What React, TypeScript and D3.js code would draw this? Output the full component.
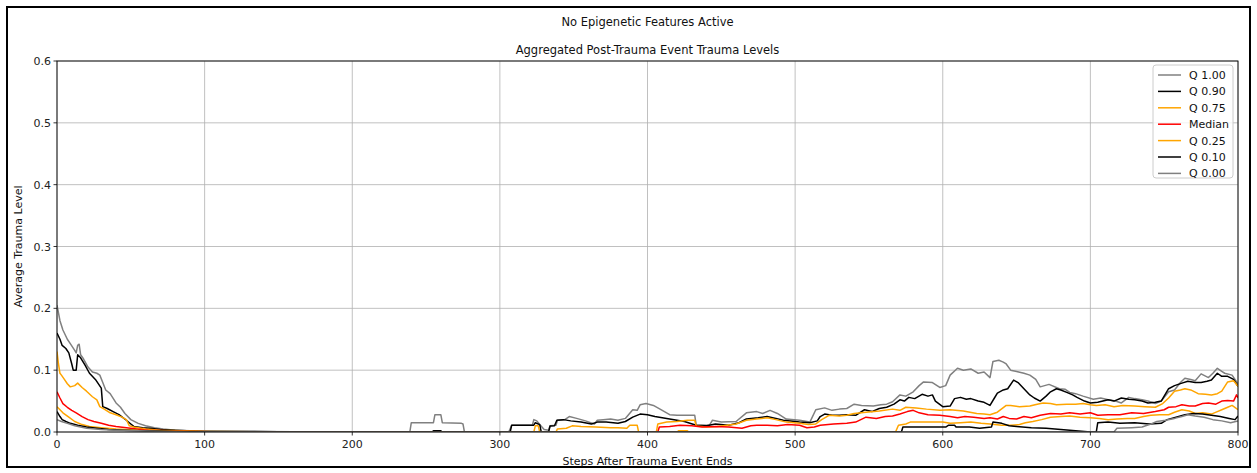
import React from "react";
import * as d3 from "d3";

type Pt = [number, number];

const xTicks = [0, 100, 200, 300, 400, 500, 600, 700, 800];
const yTicks = [0.0, 0.1, 0.2, 0.3, 0.4, 0.5, 0.6];

const q100: Pt[] = [[0,0.205],[2,0.18],[4,0.165],[7,0.15],[9,0.143],[12,0.132],[13,0.128],[14,0.14],[15,0.142],[16,0.125],[18,0.118],[21,0.105],[24,0.097],[27,0.095],[29,0.092],[31,0.08],[33,0.068],[36,0.062],[40,0.047],[43,0.04],[46,0.03],[50,0.02],[55,0.014],[60,0.01],[66,0.007],[72,0.005],[80,0.003],[90,0.002],[100,0.0015],[130,0.001],[160,0.0005],[200,0],[239,0],[240,0.015],[255,0.015],[256,0.028],[260,0.028],[261,0.015],[274,0.014],[275,0.013],[276,0],[306,0],[308,0.011],[322,0.011],[323,0.02],[325,0.018],[327,0.012],[330,0.004],[333,0.003],[334,0.01],[338,0.011],[339,0.019],[344,0.02],[347,0.025],[352,0.022],[358,0.018],[364,0.013],[366,0.019],[370,0.02],[375,0.021],[380,0.019],[385,0.022],[390,0.036],[393,0.035],[395,0.044],[399,0.046],[404,0.043],[410,0.035],[415,0.028],[420,0.027],[432,0.027],[433,0.011],[442,0.011],[444,0.019],[450,0.016],[460,0.017],[467,0.031],[474,0.033],[478,0.03],[483,0.035],[488,0.03],[494,0.021],[503,0.019],[510,0.016],[514,0.036],[520,0.039],[525,0.035],[530,0.037],[535,0.038],[540,0.045],[545,0.043],[553,0.042],[558,0.044],[562,0.045],[566,0.049],[571,0.06],[575,0.058],[580,0.065],[584,0.075],[587,0.081],[593,0.08],[598,0.072],[602,0.075],[605,0.092],[610,0.103],[614,0.1],[619,0.102],[624,0.095],[628,0.097],[632,0.088],[634,0.114],[638,0.116],[641,0.113],[643,0.11],[646,0.1],[650,0.098],[655,0.095],[659,0.092],[663,0.085],[666,0.073],[672,0.077],[679,0.07],[683,0.069],[686,0.064],[690,0.062],[695,0.058],[702,0.053],[707,0.055],[712,0.052],[717,0.05],[721,0.047],[726,0.056],[730,0.054],[735,0.052],[739,0.05],[744,0.046],[748,0.05],[753,0.065],[757,0.068],[761,0.08],[764,0.087],[768,0.085],[771,0.083],[775,0.094],[780,0.088],[783,0.095],[786,0.103],[789,0.098],[791,0.095],[796,0.092],[800,0.078]];

const q90: Pt[] = [[0,0.16],[2,0.15],[3.5,0.14],[6,0.135],[8,0.128],[10,0.11],[11,0.1],[13,0.1],[14,0.125],[16,0.12],[19,0.108],[22,0.095],[26,0.085],[30,0.071],[31,0.041],[34,0.038],[38,0.033],[42,0.028],[47,0.019],[50,0.013],[52,0.009],[58,0.007],[63,0.006],[70,0.004],[80,0.003],[100,0.001],[150,0.0005],[200,0],[254,0],[255,0.002],[260,0.002],[261,0],[307,0],[308,0.011],[323,0.011],[324,0.015],[327,0.012],[328,0],[333,0],[334,0.0097],[337,0.01],[338.6,0.019],[343,0.02],[348,0.018],[355,0.016],[362,0.013],[366,0.016],[372,0.016],[380,0.014],[385,0.017],[390,0.024],[395,0.029],[400,0.028],[405,0.025],[415,0.021],[425,0.017],[433,0.011],[440,0.01],[446,0.013],[455,0.011],[462,0.015],[467,0.021],[475,0.023],[481,0.025],[487,0.022],[492,0.019],[503,0.016],[510,0.015],[515,0.018],[517,0.025],[520,0.029],[525,0.027],[530,0.027],[535,0.028],[541,0.027],[547,0.036],[552,0.033],[557,0.038],[562,0.04],[567,0.045],[571,0.052],[574,0.05],[577,0.056],[581,0.054],[586,0.061],[590,0.058],[593,0.06],[595,0.05],[600,0.041],[605,0.042],[608,0.054],[612,0.056],[616,0.053],[619,0.054],[624,0.05],[628,0.048],[632,0.043],[635,0.055],[637,0.063],[641,0.068],[644,0.07],[648,0.084],[651,0.08],[655,0.07],[659,0.06],[662,0.055],[666,0.05],[670,0.058],[673,0.065],[677,0.07],[680,0.068],[684,0.064],[688,0.06],[691,0.056],[696,0.05],[700,0.047],[705,0.048],[712,0.052],[716,0.05],[721,0.055],[726,0.053],[730,0.052],[735,0.05],[739,0.047],[744,0.048],[748,0.05],[753,0.07],[757,0.075],[762,0.079],[766,0.082],[771,0.08],[775,0.08],[779,0.082],[782,0.084],[786,0.095],[789,0.09],[793,0.09],[797,0.085],[800,0.074]];

const q75: Pt[] = [[0,0.13],[1,0.11],[2,0.095],[3,0.092],[5,0.085],[7,0.078],[9,0.073],[12,0.075],[14,0.079],[17,0.072],[20,0.066],[24,0.057],[27,0.052],[29,0.041],[32,0.037],[36,0.031],[40,0.028],[44,0.024],[47,0.02],[49,0.01],[52,0.008],[60,0.005],[70,0.003],[85,0.002],[100,0.001],[150,0],[323,0],[324,0.01],[326,0.01],[327,0],[338,0],[339,0.005],[345,0.006],[349,0.01],[355,0.009],[365,0.008],[375,0.007],[380,0.007],[386,0.006],[388,0.011],[393,0.011],[394,0],[406,0],[407,0.013],[413,0.016],[420,0.017],[427,0.019],[432,0.019],[433,0.0097],[440,0.008],[447,0.009],[454,0.011],[460,0.013],[467,0.019],[474,0.021],[481,0.023],[487,0.02],[494,0.016],[503,0.014],[509,0.012],[514,0.013],[518,0.02],[523,0.027],[530,0.026],[535,0.027],[540,0.03],[548,0.032],[557,0.034],[566,0.037],[571,0.035],[575,0.04],[582,0.039],[589,0.037],[598,0.035],[605,0.036],[614,0.034],[623,0.03],[628,0.029],[632,0.028],[637,0.032],[643,0.043],[646,0.043],[652,0.041],[659,0.042],[664,0.045],[668,0.047],[673,0.046],[677,0.044],[684,0.045],[690,0.045],[695,0.046],[700,0.044],[704,0.043],[710,0.044],[716,0.041],[722,0.043],[730,0.042],[737,0.041],[744,0.04],[749,0.046],[753,0.055],[757,0.066],[761,0.068],[764,0.07],[768,0.068],[773,0.062],[778,0.061],[782,0.06],[786,0.062],[789,0.066],[793,0.081],[797,0.083],[800,0.074]];

const median: Pt[] = [[0,0.065],[2,0.055],[4,0.046],[7,0.04],[10,0.035],[13,0.031],[17,0.025],[21,0.02],[25,0.017],[30,0.014],[35,0.011],[40,0.009],[47,0.007],[54,0.005],[62,0.003],[75,0.002],[90,0.001],[120,0],[407,0],[408,0.008],[415,0.009],[422,0.011],[430,0.01],[437,0.008],[446,0.009],[455,0.008],[464,0.006],[470,0.01],[474,0.011],[481,0.011],[488,0.01],[495,0.012],[503,0.011],[508,0.007],[513,0.008],[517,0.011],[526,0.013],[535,0.014],[541,0.016],[548,0.024],[555,0.022],[561,0.025],[566,0.026],[571,0.029],[576,0.033],[580,0.035],[584,0.031],[590,0.028],[598,0.027],[605,0.025],[610,0.023],[615,0.025],[621,0.024],[628,0.022],[632,0.023],[637,0.021],[641,0.025],[645,0.022],[650,0.021],[655,0.025],[660,0.023],[666,0.027],[673,0.03],[680,0.029],[686,0.031],[693,0.029],[700,0.031],[705,0.027],[712,0.028],[720,0.028],[728,0.031],[736,0.03],[744,0.033],[750,0.036],[753,0.04],[758,0.041],[762,0.044],[767,0.042],[771,0.042],[776,0.046],[780,0.047],[785,0.045],[789,0.05],[793,0.051],[797,0.05],[799,0.06],[800,0.055]];

const q25: Pt[] = [[0,0.041],[2,0.036],[4,0.031],[8,0.024],[12,0.017],[17,0.012],[22,0.009],[30,0.007],[40,0.005],[55,0.003],[70,0.002],[90,0.001],[120,0],[420,0],[421,0.002],[427,0.002],[428,0],[568,0],[570,0.011],[575,0.013],[578,0.016],[590,0.016],[600,0.016],[605,0.014],[612,0.015],[619,0.016],[626,0.014],[632,0.013],[640,0.011],[646,0.011],[652,0.012],[656,0.015],[661,0.017],[667,0.02],[673,0.024],[680,0.025],[686,0.026],[693,0.024],[700,0.023],[706,0.022],[712,0.02],[718,0.021],[725,0.022],[730,0.022],[736,0.025],[741,0.027],[747,0.028],[753,0.028],[757,0.032],[762,0.036],[767,0.034],[771,0.03],[776,0.031],[782,0.029],[786,0.033],[789,0.036],[793,0.04],[796,0.043],[800,0.036]];

const q10: Pt[] = [[0,0.033],[2,0.025],[3.5,0.02],[6,0.017],[9,0.014],[14,0.011],[20,0.008],[27,0.006],[35,0.004],[45,0.003],[60,0.002],[80,0.001],[110,0],[572,0],[573,0.008],[590,0.008],[602,0.008],[604,0.011],[608,0.011],[609,0.008],[618,0.008],[625,0.006],[633,0.008],[634,0.016],[640,0.014],[645,0.01],[650,0.009],[660,0.007],[670,0.006],[680,0.004],[690,0.002],[700,0],[704,0],[705,0.015],[712,0.016],[720,0.014],[730,0.015],[740,0.013],[748,0.014],[752,0.02],[758,0.024],[764,0.028],[770,0.03],[776,0.029],[782,0.027],[788,0.025],[794,0.022],[798,0.02],[800,0.026]];

const q00: Pt[] = [[0,0.02],[3,0.017],[7,0.014],[12,0.01],[20,0.006],[30,0.004],[40,0.003],[55,0.002],[70,0.001],[90,0],[716,0],[718,0.006],[728,0.007],[735,0.008],[740,0.012],[745,0.017],[751,0.019],[757,0.022],[762,0.025],[766,0.028],[771,0.026],[777,0.024],[783,0.02],[789,0.018],[795,0.015],[800,0.018]];

const seriesNames = ["Q 1.00", "Q 0.90", "Q 0.75", "Median", "Q 0.25", "Q 0.10", "Q 0.00"];
const seriesColors = ["gray", "black", "orange", "red", "orange", "black", "gray"];
const seriesData = [q100, q90, q75, median, q25, q10, q00];

const W = 1257;
const H = 473;
const M = { left: 57, right: 1238, top: 61, bottom: 432 };
const FONT = "DejaVu Sans, sans-serif";

export default function App() {
  const x = d3.scaleLinear().domain([0, 800]).range([M.left, M.right]);
  const y = d3.scaleLinear().domain([0, 0.6]).range([M.bottom, M.top]);
  const line = d3
    .line<Pt>()
    .x((d) => x(d[0]))
    .y((d) => y(d[1]));

  const legX = 1153;
  const legY = 65;
  const legRow = 16.4;

  return (
    <svg
      width={W}
      height={H}
      style={{ position: "absolute", left: 0, top: 0, background: "white" }}
      fontFamily={FONT}
    >
      <rect x={0} y={0} width={W} height={H} fill="white" />
      <rect x={7} y={7} width={1243} height={460} fill="none" stroke="black" strokeWidth={2} />
      <defs>
        <clipPath id="plotclip">
          <rect x={M.left} y={M.top} width={M.right - M.left} height={M.bottom - M.top} />
        </clipPath>
      </defs>

      {/* grid */}
      {xTicks.map((t) => (
        <line key={"gx" + t} x1={x(t)} x2={x(t)} y1={M.top} y2={M.bottom} stroke="#b0b0b0" strokeWidth={0.8} />
      ))}
      {yTicks.map((t) => (
        <line key={"gy" + t} x1={M.left} x2={M.right} y1={y(t)} y2={y(t)} stroke="#b0b0b0" strokeWidth={0.8} />
      ))}

      {/* lines */}
      <g clipPath="url(#plotclip)">
        {seriesData.map((s, i) => (
          <path key={i} d={line(s) || ""} fill="none" stroke={seriesColors[i]} strokeWidth={1.5} strokeLinejoin="round" />
        ))}
      </g>

      {/* spines */}
      <rect x={M.left} y={M.top} width={M.right - M.left} height={M.bottom - M.top} fill="none" stroke="black" strokeWidth={0.9} />

      {/* ticks */}
      {xTicks.map((t) => (
        <g key={"tx" + t}>
          <line x1={x(t)} x2={x(t)} y1={M.bottom} y2={M.bottom + 3.5} stroke="black" strokeWidth={0.8} />
          <text x={x(t)} y={M.bottom + 16} textAnchor="middle" fontSize={11} fill="#222">
            {t}
          </text>
        </g>
      ))}
      {yTicks.map((t) => (
        <g key={"ty" + t}>
          <line x1={M.left - 3.5} x2={M.left} y1={y(t)} y2={y(t)} stroke="black" strokeWidth={0.8} />
          <text x={M.left - 6} y={y(t) + 4} textAnchor="end" fontSize={11} fill="#222">
            {t.toFixed(1)}
          </text>
        </g>
      ))}

      {/* titles */}
      <text x={(M.left + M.right) / 2} y={26} textAnchor="middle" fontSize={11.5} fill="#111">
        No Epigenetic Features Active
      </text>
      <text x={(M.left + M.right) / 2} y={54} textAnchor="middle" fontSize={11.5} fill="#111">
        Aggregated Post-Trauma Event Trauma Levels
      </text>
      <text x={(M.left + M.right) / 2} y={465} textAnchor="middle" fontSize={11} fill="#111">
        Steps After Trauma Event Ends
      </text>
      <text
        transform={`translate(22, ${(M.top + M.bottom) / 2}) rotate(-90)`}
        textAnchor="middle"
        fontSize={11}
        fill="#111"
      >
        Average Trauma Level
      </text>

      {/* legend */}
      <rect x={legX} y={legY} width={80} height={113} rx={3} fill="white" fillOpacity={0.8} stroke="#cccccc" strokeWidth={1} />
      {seriesNames.map((n, i) => (
        <g key={"lg" + i}>
          <line
            x1={legX + 5}
            x2={legX + 28}
            y1={legY + 10 + i * legRow}
            y2={legY + 10 + i * legRow}
            stroke={seriesColors[i]}
            strokeWidth={1.5}
          />
          <text x={legX + 36} y={legY + 14 + i * legRow} fontSize={11} fill="#111">
            {n}
          </text>
        </g>
      ))}
    </svg>
  );
}
